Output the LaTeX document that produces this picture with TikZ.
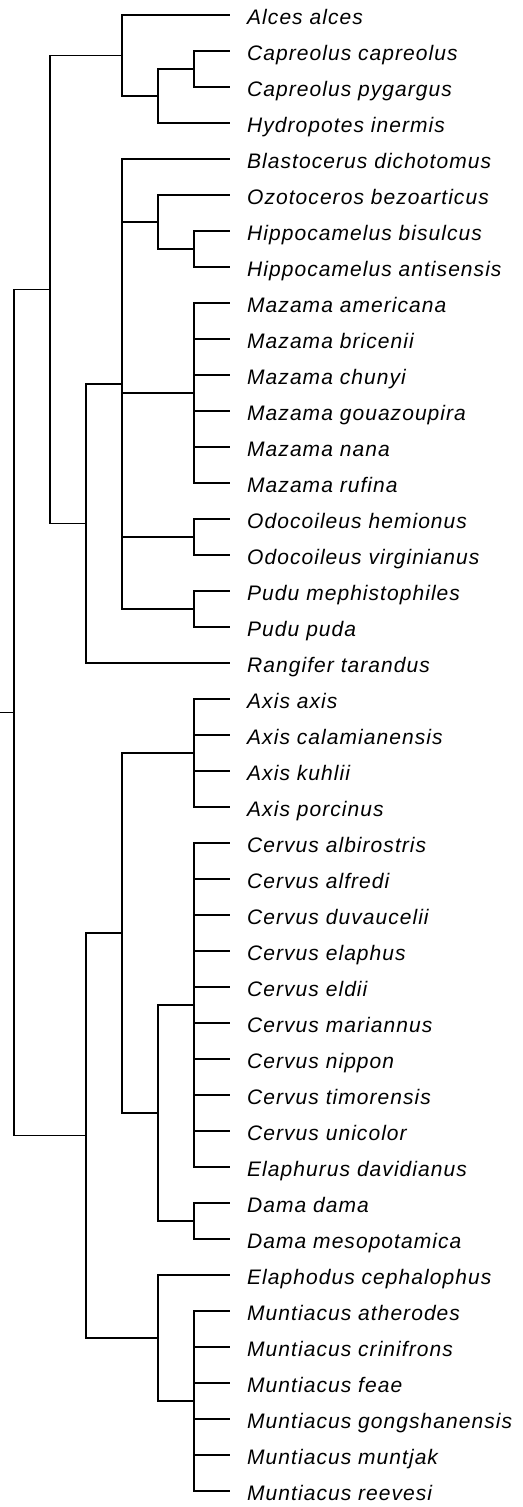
\documentclass[tikz,border=0pt]{standalone}
\usepackage{fontspec}
\setmainfont{Liberation Sans}
\newfontfamily\leaffont[LetterSpace=5]{Liberation Sans}
\begin{document}
\begin{tikzpicture}[x=1pt,y=-1pt,
  branch/.style={draw=black,line width=1.2pt},
  leaf/.style={anchor=base west,inner sep=0pt,font=\leaffont\itshape\fontsize{21}{25}\selectfont,text=black}]
\useasboundingbox (0,0) rectangle (522,1507);
% leaves
\foreach \nm [count=\i from 0] in {Alces alces,Capreolus capreolus,Capreolus pygargus,Hydropotes inermis,Blastocerus dichotomus,Ozotoceros bezoarticus,Hippocamelus bisulcus,Hippocamelus antisensis,Mazama americana,Mazama bricenii,Mazama chunyi,Mazama gouazoupira,Mazama nana,Mazama rufina,Odocoileus hemionus,Odocoileus virginianus,Pudu mephistophiles,Pudu puda,Rangifer tarandus,Axis axis,Axis calamianensis,Axis kuhlii,Axis porcinus,Cervus albirostris,Cervus alfredi,Cervus duvaucelii,Cervus elaphus,Cervus eldii,Cervus mariannus,Cervus nippon,Cervus timorensis,Cervus unicolor,Elaphurus davidianus,Dama dama,Dama mesopotamica,Elaphodus cephalophus,Muntiacus atherodes,Muntiacus crinifrons,Muntiacus feae,Muntiacus gongshanensis,Muntiacus muntjak,Muntiacus reevesi}{
  \pgfmathsetmacro\yy{15+36*\i}
  \coordinate (l\i) at (230,\yy);
  \node[leaf] (t\i) at (247,\yy+9.5) {\nm};
}
% internal nodes
\coordinate (r0) at (0,712.5);
\coordinate (root) at (14,712.5);
\coordinate (nA) at (50,289.5);
\coordinate (nA1) at (122,55.5);
\coordinate (nA1b) at (158,96);
\coordinate (nA1c) at (194,69);
\coordinate (nA2) at (86,523.5);
\coordinate (nB) at (122,384);
\coordinate (nOz) at (158,222);
\coordinate (nHip) at (194,249);
\coordinate (nMaz) at (194,393);
\coordinate (nOdo) at (194,537);
\coordinate (nPudu) at (194,609);
\coordinate (nC) at (86,1135.5);
\coordinate (nC1) at (122,933);
\coordinate (nAxis) at (194,753);
\coordinate (nC1b) at (158,1113);
\coordinate (nCerv) at (194,1005);
\coordinate (nDama) at (194,1221);
\coordinate (nC2) at (158,1338);
\coordinate (nMunt) at (194,1401);
% branches
\draw[branch] (r0) -- (root);
\foreach \p/\cs in {root/{nA,nC},nA/{nA1,nA2},nA1/{l0,nA1b},nA1b/{nA1c,l3},nA1c/{l1,l2},
  nA2/{nB,l18},nB/{l4,nOz,nMaz,nOdo,nPudu},nOz/{l5,nHip},nHip/{l6,l7},
  nMaz/{l8,l9,l10,l11,l12,l13},nOdo/{l14,l15},nPudu/{l16,l17},
  nC/{nC1,nC2},nC1/{nAxis,nC1b},nAxis/{l19,l20,l21,l22},nC1b/{nCerv,nDama},
  nCerv/{l23,l24,l25,l26,l27,l28,l29,l30,l31,l32},nDama/{l33,l34},
  nC2/{l35,nMunt},nMunt/{l36,l37,l38,l39,l40,l41}}{
  \foreach \c in \cs {\draw[branch] (\p) |- (\c);}
}
\end{tikzpicture}
\end{document}
